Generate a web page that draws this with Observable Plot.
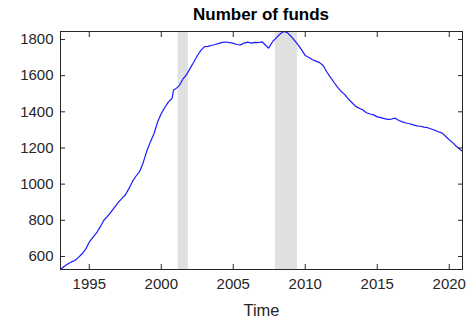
<!DOCTYPE html>
<html>
<head>
<meta charset="utf-8">
<script src="https://cdn.jsdelivr.net/npm/d3@7"></script>
<script src="https://cdn.jsdelivr.net/npm/@observablehq/plot@0.6"></script>
<style>
  html, body { margin: 0; padding: 0; background: #fff; }
  #title {
    height: 24px; padding-top: 5px; line-height: 24px;
    text-align: center; font: bold 17px "Liberation Sans", Arial, sans-serif;
    color: #000; padding-left: 49px; box-sizing: content-box; width: 424px;
  }
</style>
</head>
<body>
<div id="title">Number of funds</div>
<div id="chart"></div>
<script>
// Number of funds over time (decimal years)
const years = [
  1993.00, 1993.25, 1993.50, 1993.75, 1994.00, 1994.25, 1994.50, 1994.75,
  1995.00, 1995.25, 1995.50, 1995.75, 1996.00, 1996.25, 1996.50, 1996.75,
  1997.00, 1997.25, 1997.50, 1997.75, 1998.00, 1998.25, 1998.50, 1998.75,
  1999.00, 1999.25, 1999.50, 1999.75, 2000.00, 2000.25, 2000.50, 2000.75,
  2000.85, 2001.00, 2001.25, 2001.50, 2001.75, 2002.00, 2002.25, 2002.50,
  2002.75, 2003.00, 2003.25, 2003.50, 2003.75, 2004.00, 2004.25, 2004.50,
  2004.75, 2005.00, 2005.25, 2005.50, 2005.75, 2006.00, 2006.25, 2006.50,
  2006.75, 2007.00, 2007.25, 2007.45, 2007.75, 2008.00, 2008.25, 2008.50,
  2008.75, 2009.00, 2009.25, 2009.50, 2009.75, 2010.00, 2010.25, 2010.50,
  2010.75, 2011.00, 2011.25, 2011.50, 2011.75, 2012.00, 2012.25, 2012.50,
  2012.75, 2013.00, 2013.25, 2013.50, 2013.75, 2014.00, 2014.25, 2014.50,
  2014.75, 2015.00, 2015.25, 2015.50, 2015.75, 2016.00, 2016.25, 2016.50,
  2016.75, 2017.00, 2017.25, 2017.50, 2017.75, 2018.00, 2018.25, 2018.50,
  2018.75, 2019.00, 2019.25, 2019.50, 2019.75, 2020.00, 2020.25, 2020.50,
  2020.75, 2020.92
];
const funds = [
  528, 545, 558, 570, 578, 595, 615, 640,
  680, 705, 730, 762, 799, 820, 845, 872,
  898, 920, 940, 975, 1015, 1045, 1070, 1120,
  1185, 1235, 1280, 1345, 1390, 1425, 1455, 1475,
  1520, 1527, 1545, 1580, 1605, 1640, 1674, 1710,
  1740, 1760, 1762, 1768, 1772, 1778, 1784, 1786,
  1783, 1778, 1772, 1770, 1780, 1785, 1780, 1784,
  1783, 1787, 1768, 1752, 1790, 1810, 1830, 1844,
  1838, 1818, 1795, 1770, 1742, 1711, 1700, 1688,
  1680, 1672, 1655, 1620, 1590, 1562, 1535, 1512,
  1495, 1470, 1450, 1430, 1420, 1410, 1395, 1388,
  1383, 1372, 1368, 1362, 1358, 1360, 1365, 1352,
  1344, 1338, 1334, 1328, 1322, 1320, 1315, 1312,
  1305, 1298, 1290, 1282, 1265, 1245, 1228, 1208,
  1192, 1182
];

// Recession periods (start, end)
const recessionStart = [2001.17, 2007.92];
const recessionEnd = [2001.88, 2009.46];

const xTicks = [1995, 2000, 2005, 2010, 2015, 2020];
const yTicks = [600, 800, 1000, 1200, 1400, 1600, 1800];
const xLabel = "Time";

const series = years.map((t, i) => ({t, n: funds[i]}));
const recessions = recessionStart.map((s, i) => ({s, e: recessionEnd[i]}));

const axisColor = "#262626";
const fmt = d => String(d);

const chart = Plot.plot({
  width: 473,
  height: 292,
  marginTop: 2,
  marginBottom: 52,
  marginLeft: 60,
  marginRight: 11,
  style: {fontFamily: "'Liberation Sans', Arial, sans-serif", fontSize: "15px", color: axisColor, background: "#fff"},
  x: {domain: [years[0], years[years.length - 1]], ticks: xTicks, tickFormat: fmt},
  y: {domain: d3.extent(funds), ticks: yTicks, tickFormat: fmt},
  marks: [
    Plot.rect(recessions, {x1: "s", x2: "e", fill: "#e0e0e0"}),
    Plot.line(series, {x: "t", y: "n", stroke: "#1a1aff", strokeWidth: 1.2}),
    Plot.frame({stroke: axisColor, strokeWidth: 1}),
    Plot.axisX(xTicks, {anchor: "bottom", tickSize: -5, tickPadding: 14, tickFormat: fmt, label: null, fontSize: 15}),
    Plot.axisX(xTicks, {anchor: "top", tickSize: -5, tickFormat: () => "", label: null}),
    Plot.axisY(yTicks, {anchor: "left", tickSize: -5, tickPadding: 12, tickFormat: fmt, label: null, fontSize: 15}),
    Plot.axisY(yTicks, {anchor: "right", tickSize: -5, tickFormat: () => "", label: null}),
    Plot.text([xLabel], {frameAnchor: "bottom", dy: 46, text: d => d, fontSize: 16.5, fill: axisColor})
  ]
});
document.getElementById("chart").appendChild(chart);
</script>
</body>
</html>
